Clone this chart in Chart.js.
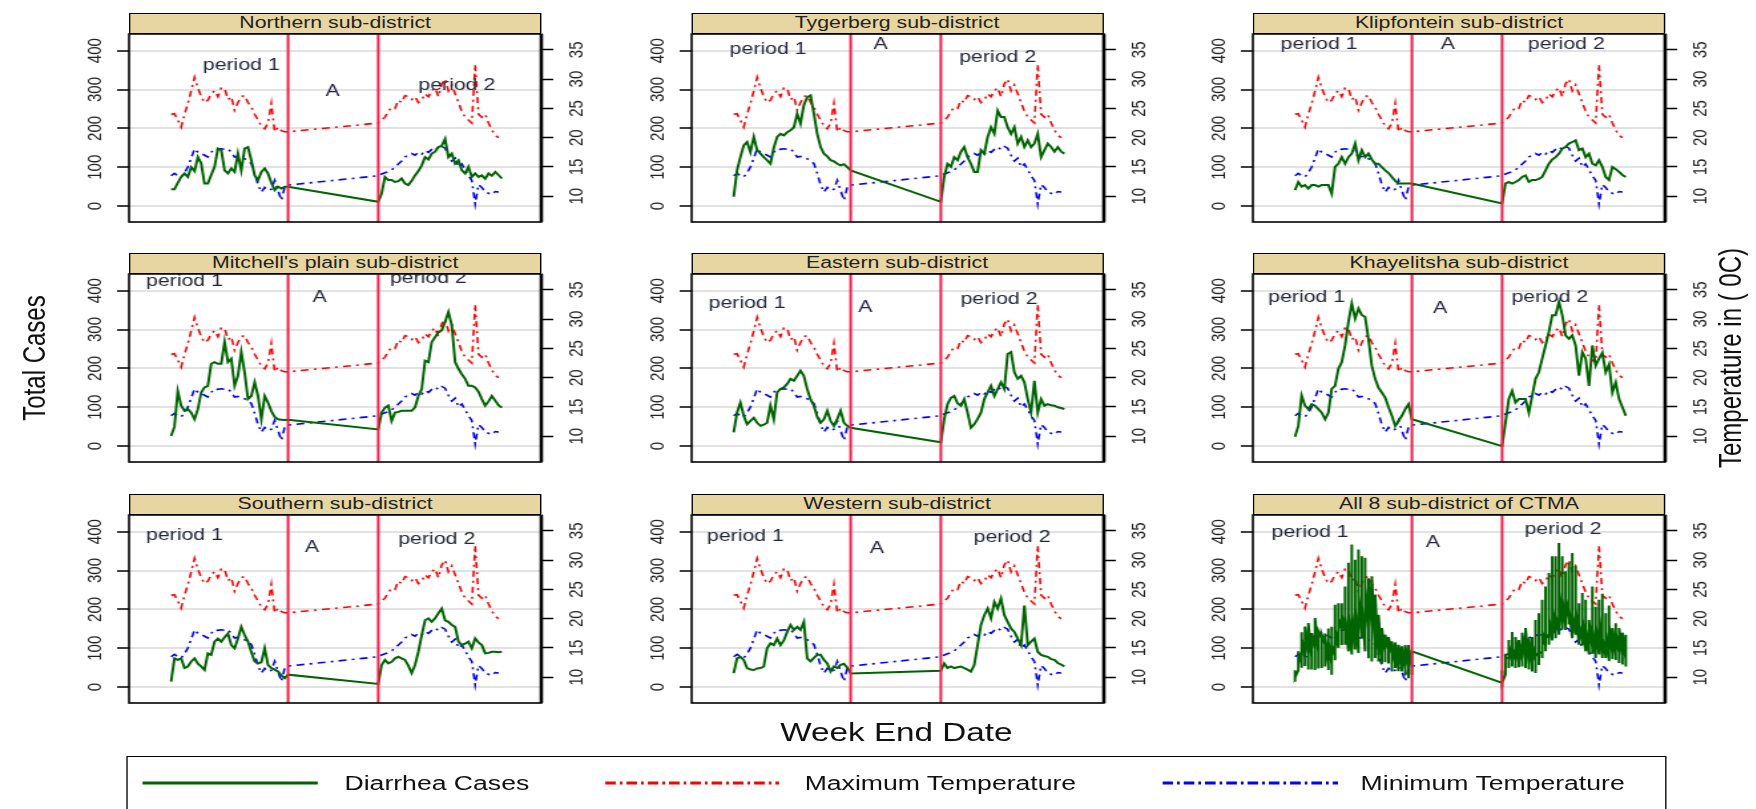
<!DOCTYPE html>
<html lang="en">
<head>
<meta charset="UTF-8">
<title>Diarrhea cases and temperature by sub-district</title>
<script src="https://cdn.jsdelivr.net/npm/chart.js"></script>
<style>
  html, body { margin: 0; padding: 0; background: #fff; overflow: hidden; }
  body { width: 1756px; height: 809px; font-family: "Liberation Sans", Arial, sans-serif; }
  /* the original figure is stretched sideways, so the whole page is too */
  #fig { position: absolute; left: 0; top: 0; width: 1320px; height: 809px; transform: scaleX(1.33); transform-origin: 0 0; }
  .strip { position: absolute; height: 21px; box-sizing: border-box; border: 1.5px solid #000; background: #e8d6a2;
           font-size: 16px; line-height: 18px; text-align: center; color: #222; }
  canvas.panel { position: absolute; }
  .rot { position: absolute; font-size: 24px; white-space: nowrap; color: #111; transform: translate(-50%, -50%) rotate(-90deg); }
  .xlab { position: absolute; font-size: 25px; white-space: nowrap; color: #111; transform: translate(-50%, -50%); }
  #legend { position: absolute; left: 95px; top: 756px; width: 1158px; height: 70px; box-sizing: border-box; border: 1.5px solid #000; }
  .ltxt { position: absolute; font-size: 20px; line-height: 24px; color: #111; white-space: nowrap; }
  .lsym { position: absolute; }
</style>
</head>
<body>
<div id="fig">
  <div class="rot" style="left:26px; top:358px;">Total Cases</div>
  <div class="rot" style="left:1301px; top:358px;">Temperature in ( 0C)</div>
  <div class="xlab" style="left:674px; top:732px;">Week End Date</div>
  <div id="legend"></div>
  <svg class="lsym" style="left:107px; top:778px;" width="132" height="10"><line x1="0" y1="5" x2="132" y2="5" stroke="#006400" stroke-width="3"/></svg>
  <div class="ltxt" style="left:259px; top:771px;">Diarrhea Cases</div>
  <svg class="lsym" style="left:455px; top:778px;" width="131" height="10"><line x1="0" y1="5" x2="131" y2="5" stroke="#ff0000" stroke-width="3" stroke-dasharray="8 3 2 3"/></svg>
  <div class="ltxt" style="left:605px; top:771px;">Maximum Temperature</div>
  <svg class="lsym" style="left:874px; top:778px;" width="132" height="10"><line x1="0" y1="5" x2="132" y2="5" stroke="#0000ff" stroke-width="3" stroke-dasharray="8 3 2 3"/></svg>
  <div class="ltxt" style="left:1023px; top:771px;">Minimum Temperature</div>
</div>

<script>
// week numbers of the two study periods (gap "A" in between)
var weeksP1 = [1, 2, 3, 4, 5, 6, 7, 8, 9, 10, 11, 12, 13, 14, 15, 16, 17, 18, 19, 20, 21, 22, 23, 24, 25, 26, 27, 28, 29, 30, 31, 32, 33, 34, 35, 36];
var weeksP2 = [63, 64, 65, 66, 67, 68, 69, 70, 71, 72, 73, 74, 75, 76, 77, 78, 79, 80, 81, 82, 83, 84, 85, 86, 87, 88, 89, 90, 91, 92, 93, 94, 95, 96, 97, 98, 99, 100];
var periodEdges = [36, 63];

// temperature (same for every sub-district)
var maxP1 = [24.0, 24.1, 23.0, 21.8, 24.0, 25.8, 28.0, 30.3, 28.5, 27.0, 26.0, 26.4, 27.5, 28.0, 27.0, 28.5, 28.4, 26.5, 27.0, 24.7, 26.0, 27.0, 27.2, 26.0, 25.2, 24.0, 23.0, 22.0, 21.5, 22.5, 25.8, 21.0, 21.8, 21.2, 21.0, 21.0];
var maxP2 = [22.5, 23.0, 23.5, 24.5, 25.2, 25.0, 26.4, 26.0, 27.2, 27.0, 26.5, 27.0, 26.0, 26.4, 27.5, 27.0, 28.0, 28.5, 27.0, 29.2, 30.0, 28.0, 29.0, 27.5, 26.0, 24.5, 23.5, 23.0, 22.5, 32.5, 24.0, 23.5, 24.0, 22.5, 21.3, 20.4, 20.0, null];
var minP1 = [13.5, 13.9, 13.5, 13.3, 14.0, 15.0, 16.5, 18.1, 17.5, 17.3, 17.0, 16.7, 17.5, 18.1, 18.0, 18.1, 18.0, 18.1, 17.5, 16.7, 16.8, 16.5, 16.4, 16.0, 15.6, 13.9, 12.0, 10.7, 11.5, 11.0, 11.2, 12.7, 11.0, 9.3, 11.6, 11.9];
var minP2 = [13.5, 13.8, 14.0, 14.2, 14.5, 15.0, 15.5, 16.0, 16.7, 17.0, 17.3, 17.0, 17.5, 17.2, 17.8, 17.5, 18.0, 18.4, 18.0, 18.5, 18.2, 17.0, 16.0, 16.5, 15.0, 15.5, 14.5, 13.5, 12.7, 8.7, 12.0, 11.5, 10.7, 10.5, 10.3, 10.8, 10.7, null];

// diarrhea cases per sub-district
var northP1 = [43, 43, 60, 75, 84, 75, 100, 90, 126, 110, 58, 58, 80, 101, 148, 144, 92, 84, 97, 88, 135, 92, 148, 152, 118, 79, 67, 88, 97, 84, 60, 41, 50, 45, 50, 50];
var northP2 = [11, 32, 75, 67, 67, 62, 64, 71, 58, 54, 65, 79, 90, 105, 126, 120, 135, 140, 152, 155, 173, 126, 135, 109, 118, 92, 84, 101, 75, 84, 75, 79, 70, 84, 78, 88, 80, 71];
var tygerP1 = [24, 92, 126, 156, 165, 139, 178, 144, 135, 126, 118, 109, 150, 178, 186, 182, 190, 195, 203, 238, 212, 260, 280, 285, 238, 186, 152, 135, 128, 118, 115, 109, 105, 108, 100, 92];
var tygerP2 = [11, 75, 109, 101, 126, 118, 140, 152, 126, 109, 88, 88, 144, 135, 178, 203, 186, 246, 229, 229, 203, 186, 203, 161, 178, 152, 169, 152, 161, 186, 126, 144, 161, 152, 140, 152, 140, 135];
var klipP1 = [41, 62, 50, 54, 45, 54, 54, 50, 54, 54, 54, 32, 101, 109, 126, 109, 126, 135, 161, 118, 144, 126, 135, 120, 109, 109, 100, 92, 85, 75, 65, 58, 58, 58, 58, 58];
var klipP2 = [7, 58, 62, 58, 62, 67, 75, 79, 62, 67, 67, 70, 75, 92, 109, 120, 126, 135, 148, 152, 161, 165, 169, 144, 148, 126, 135, 109, 105, 118, 101, 75, 67, 101, 95, 88, 80, 75];
var mitchP1 = [26, 50, 141, 104, 91, 95, 86, 69, 95, 138, 151, 155, 212, 216, 212, 212, 268, 216, 225, 155, 181, 242, 190, 121, 129, 164, 129, 69, 129, 112, 90, 75, 69, 68, 67, 68];
var mitchP2 = [43, 86, 99, 104, 65, 86, 88, 91, 91, 91, 91, 100, 129, 147, 220, 216, 268, 280, 294, 298, 320, 345, 311, 216, 199, 185, 173, 155, 155, 151, 140, 121, 104, 115, 129, 117, 105, 99];
var eastP1 = [35, 86, 112, 78, 56, 65, 73, 60, 52, 55, 60, 104, 69, 138, 147, 151, 160, 173, 168, 181, 194, 181, 147, 120, 104, 75, 60, 69, 91, 65, 52, 70, 91, 60, 52, 47];
var eastP2 = [10, 69, 108, 124, 129, 110, 104, 121, 86, 47, 56, 70, 86, 121, 138, 155, 129, 147, 164, 147, 237, 242, 190, 173, 181, 164, 121, 86, 168, 86, 121, 104, 108, 105, 104, 100, 98, 95];
var khayP1 = [24, 52, 130, 104, 95, 108, 104, 95, 86, 69, 86, 147, 155, 199, 216, 259, 320, 367, 328, 354, 337, 333, 276, 207, 173, 150, 138, 125, 100, 78, 52, 65, 78, 95, 108, 69];
var khayP2 = [0, 60, 121, 142, 112, 121, 121, 121, 86, 129, 173, 190, 225, 259, 294, 337, 337, 371, 337, 285, 276, 285, 259, 181, 242, 225, 155, 259, 207, 225, 240, 190, 210, 138, 164, 121, 100, 78];
var southP1 = [14, 74, 70, 74, 49, 53, 66, 74, 60, 53, 44, 87, 83, 117, 125, 117, 128, 138, 108, 100, 125, 155, 134, 117, 90, 66, 61, 64, 100, 57, 49, 45, 40, 30, 23, 32];
var southP2 = [8, 57, 70, 61, 65, 74, 78, 74, 70, 55, 36, 57, 91, 134, 172, 177, 168, 177, 190, 202, 172, 168, 160, 155, 117, 108, 112, 117, 100, 125, 115, 108, 87, 88, 91, 91, 90, 91];
var westP1 = [36, 74, 78, 70, 49, 45, 44, 48, 49, 53, 100, 113, 108, 125, 108, 120, 142, 160, 147, 155, 147, 168, 74, 66, 75, 83, 83, 70, 61, 40, 53, 49, 57, 60, 50, 35];
var westP2 = [42, 61, 49, 53, 49, 51, 53, 49, 45, 40, 57, 108, 160, 185, 202, 177, 219, 202, 228, 185, 168, 151, 142, 125, 108, 210, 108, 117, 125, 91, 83, 80, 78, 72, 70, 62, 58, 53];

// axis ticks
var leftTicks = [0, 100, 200, 300, 400];
var rightTicks = [10, 15, 20, 25, 30, 35];

var panelNames = ['Northern sub-district', 'Tygerberg sub-district', 'Klipfontein sub-district',
                  "Mitchell's plain sub-district", 'Eastern sub-district', 'Khayelitsha sub-district',
                  'Southern sub-district', 'Western sub-district', 'All 8 sub-district of CTMA'];
var periodTexts = ['period 1', 'A', 'period 2'];
// where the three texts sit in each panel: [week, cases]
var labelXY = [
  [[22, 361], [49.3, 296], [86.5, 310]],
  [[11.3, 404], [45, 417], [80, 383]],
  [[8.2, 417], [46.8, 417], [82.2, 417]],
  [[5, 423], [45.5, 383], [78, 430]],
  [[5, 367], [40.4, 356], [80.4, 378]],
  [[4.5, 382], [44.5, 354], [77.3, 382]],
  [[5, 390], [43.2, 360], [80.5, 380]],
  [[4.5, 388], [43.9, 357], [84.3, 385]],
  [[5.5, 397], [42.3, 371], [81.2, 405]]
];

// layout (unstretched page units)
var colLeft = [97, 519.5, 942];
var rowTop = [13, 253, 494];
var plotW = 310, plotH = 188, stripH = 21, AX = 40;

function pts(xs, ys) {
  return xs.map(function (x, i) { return { x: x, y: ys[i] }; });
}

var weeksAll = weeksP1.concat(weeksP2);
var maxTemp = pts(weeksAll, maxP1.concat(maxP2));
var minTemp = pts(weeksAll, minP1.concat(minP2));

var districts = [
  [northP1, northP2], [tygerP1, tygerP2], [klipP1, klipP2],
  [mitchP1, mitchP2], [eastP1, eastP2], [khayP1, khayP2],
  [southP1, southP2], [westP1, westP2]
];

// the last panel pools the eight sub-districts week by week
var poolOrder = [0, 3, 6, 4, 5, 7, 2, 1];
var pooled = [];
weeksP1.forEach(function (w, i) {
  poolOrder.forEach(function (d) { pooled.push({ x: w, y: districts[d][0][i] }); });
});
weeksP2.forEach(function (w, i) {
  poolOrder.forEach(function (d) { pooled.push({ x: w, y: districts[d][1][i] }); });
});

var panelDeco = {
  id: 'panelDeco',
  afterDraw: function (chart, args, opts) {
    var ctx = chart.ctx, a = chart.chartArea, sc = chart.scales;
    ctx.save();
    // texts inside panel
    ctx.fillStyle = '#23273d';
    ctx.font = '16px "Liberation Sans", Arial, sans-serif';
    ctx.textAlign = 'center';
    ctx.textBaseline = 'middle';
    opts.pos.forEach(function (p, i) {
      ctx.fillText(periodTexts[i], sc.x.getPixelForValue(p[0]), sc.y.getPixelForValue(p[1]));
    });
    // frame
    ctx.strokeStyle = '#000';
    ctx.lineWidth = 1.6;
    ctx.strokeRect(a.left, a.top, a.right - a.left, a.bottom - a.top);
    ctx.lineWidth = 2.6;
    ctx.beginPath();
    ctx.moveTo(a.right, a.top);
    ctx.lineTo(a.right, a.bottom);
    ctx.stroke();
    // rotated tick labels
    ctx.fillStyle = '#222';
    ctx.font = '15px "Liberation Sans", Arial, sans-serif';
    [['y', a.left - 25], ['y2', a.right + 27]].forEach(function (s) {
      var scale = sc[s[0]];
      scale.ticks.forEach(function (t) {
        ctx.save();
        ctx.translate(s[1], scale.getPixelForValue(t.value));
        ctx.rotate(-Math.PI / 2);
        ctx.fillText(String(t.value), 0, 0);
        ctx.restore();
      });
    });
    ctx.restore();
  }
};

function makePanel(k) {
  var r = Math.floor(k / 3), c = k % 3;
  var fig = document.getElementById('fig');

  var strip = document.createElement('div');
  strip.className = 'strip';
  strip.style.left = colLeft[c] + 'px';
  strip.style.top = rowTop[r] + 'px';
  strip.style.width = plotW + 'px';
  strip.textContent = panelNames[k];

  var cv = document.createElement('canvas');
  cv.className = 'panel';
  cv.width = plotW + 2 * AX;
  cv.height = plotH + 4;
  cv.style.left = (colLeft[c] - AX) + 'px';
  cv.style.top = (rowTop[r] + stripH - 2) + 'px';
  fig.appendChild(cv);
  fig.appendChild(strip);

  var cases = k < 8 ? pts(weeksAll, districts[k][0].concat(districts[k][1])) : pooled;

  var datasets = [
    { label: 'Diarrhea Cases', data: cases, yAxisID: 'y', borderColor: '#006400', borderWidth: 2, order: 1 },
    { label: 'Maximum Temperature', data: maxTemp, yAxisID: 'y2', borderColor: '#ff0000', borderWidth: 1.6, borderDash: [6, 4, 2, 4], order: 2 },
    { label: 'Minimum Temperature', data: minTemp, yAxisID: 'y2', borderColor: '#0000ff', borderWidth: 1.6, borderDash: [6, 4, 2, 4], order: 3 }
  ];
  periodEdges.forEach(function (w) {
    datasets.push({ data: [{ x: w, y: -41 }, { x: w, y: 443 }], yAxisID: 'y', borderColor: '#f0204a', borderWidth: 2, order: 0 });
  });

  new Chart(cv, {
    type: 'line',
    data: { datasets: datasets },
    plugins: [panelDeco],
    options: {
      responsive: false,
      animation: false,
      events: [],
      layout: { padding: { top: 2, bottom: 2, left: 0, right: 0 } },
      elements: { point: { radius: 0 }, line: { tension: 0, fill: false } },
      plugins: { legend: { display: false }, tooltip: { enabled: false }, panelDeco: { pos: labelXY[k] } },
      scales: {
        x: { type: 'linear', min: -11.6, max: 111.8, display: false },
        y: {
          position: 'left', min: -41, max: 443,
          afterBuildTicks: function (s) { s.ticks = leftTicks.map(function (v) { return { value: v }; }); },
          afterFit: function (s) { s.width = AX; s.paddingTop = 0; s.paddingBottom = 0; },
          ticks: { display: false },
          grid: { color: '#e2e2e2', lineWidth: 2, drawTicks: true, tickLength: 9, tickColor: '#000', tickWidth: 1.5 },
          border: { display: false }
        },
        y2: {
          position: 'right', min: 5.6, max: 37.7,
          afterBuildTicks: function (s) { s.ticks = rightTicks.map(function (v) { return { value: v }; }); },
          afterFit: function (s) { s.width = AX; s.paddingTop = 0; s.paddingBottom = 0; },
          ticks: { display: false },
          grid: { drawOnChartArea: false, drawTicks: true, tickLength: 9, tickColor: '#000', tickWidth: 1.5 },
          border: { display: false }
        }
      }
    }
  });
}

for (var k = 0; k < 9; k++) makePanel(k);
</script>
</body>
</html>
